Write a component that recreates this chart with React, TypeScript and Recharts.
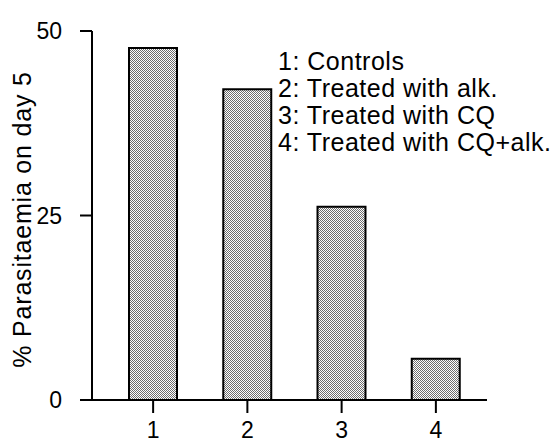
import React from 'react';
import { BarChart, Bar, XAxis, YAxis } from 'recharts';

const categories = ['1', '2', '3', '4'];
const groupNames = ['Controls', 'Treated with alk.', 'Treated with CQ', 'Treated with CQ+alk.'];
const parasitaemia = [47.7, 42.1, 26.2, 5.6];
const yTicks = [0, 25, 50];
const yLabel = '% Parasitaemia on day 5';

const data = categories.map((c, i) => ({ group: c, value: parasitaemia[i] }));

const FONT = '"Liberation Sans", Arial, Helvetica, sans-serif';

export default function App() {
  return (
    <div style={{ position: 'absolute', left: 0, top: 0, width: 554, height: 444, background: '#fff' }}>
      <BarChart
        width={554}
        height={444}
        data={data}
        margin={{ top: 31, right: 67, bottom: 0, left: 0 }}
        barCategoryGap={0}
      >
        <defs>
          <pattern id="stipple" width="2" height="2" patternUnits="userSpaceOnUse">
            <rect x="0" y="0" width="2" height="2" fill="#ffffff" />
            <rect x="0" y="0" width="1" height="1" fill="#6e6e6e" />
            <rect x="1" y="1" width="1" height="1" fill="#6e6e6e" />
          </pattern>
        </defs>
        <XAxis
          dataKey="group"
          type="category"
          height={44}
          padding={{ left: 14, right: 4 }}
          tickSize={13}
          tickMargin={9}
          axisLine={{ stroke: '#000', strokeWidth: 2 }}
          tickLine={{ stroke: '#000', strokeWidth: 2 }}
          tick={{ fill: '#000', fontSize: 23, fontFamily: FONT }}
        />
        <YAxis
          type="number"
          domain={[0, 50]}
          ticks={yTicks}
          width={92}
          tickSize={12}
          tickMargin={18}
          axisLine={{ stroke: '#000', strokeWidth: 2 }}
          tickLine={{ stroke: '#000', strokeWidth: 2 }}
          tick={{ fill: '#000', fontSize: 23, fontFamily: FONT }}
          label={{
            value: yLabel,
            angle: -90,
            position: 'center',
            dx: -24,
            dy: 4,
            style: { fill: '#000', fontSize: 25, fontFamily: FONT, letterSpacing: 0.8 },
          }}
        />
        <Bar
          dataKey="value"
          barSize={48}
          fill="url(#stipple)"
          stroke="#000"
          strokeWidth={2}
          isAnimationActive={false}
        />
      </BarChart>
      <div
        style={{
          position: 'absolute',
          left: 278,
          top: 48,
          fontFamily: FONT,
          fontSize: 25,
          letterSpacing: 0.5,
          lineHeight: '27px',
          color: '#000',
          whiteSpace: 'nowrap',
        }}
      >
        {categories.map((c, i) => (
          <div key={c}>{`${c}: ${groupNames[i]}`}</div>
        ))}
      </div>
    </div>
  );
}
